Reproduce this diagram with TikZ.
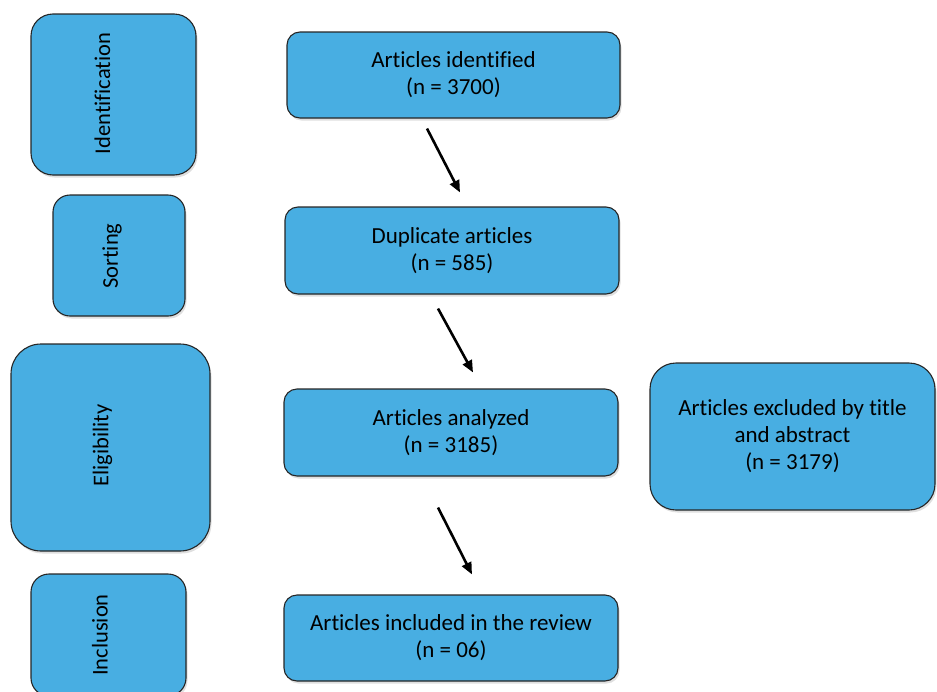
\documentclass[tikz,border=0pt]{standalone}
\usepackage{fontspec}
\setmainfont[Ligatures={NoCommon,NoRare},RawFeature={-liga;-dlig}]{Carlito}
\usetikzlibrary{arrows.meta,shadows}
\definecolor{boxblue}{RGB}{72,174,226}
\begin{document}
\begin{tikzpicture}
    [
        x=1pt, y=-1pt,
        box/.style={rectangle, rounded corners=13pt, draw=black!85, line width=1.1pt, fill=boxblue, inner sep=0pt, align=center,
            drop shadow={shadow xshift=1.5pt, shadow yshift=-2.5pt, opacity=0.25},
            font=\fontsize{23}{27}\selectfont},
        sidelabel/.style={rotate=90, inner sep=0pt, font=\fontsize{22.5}{27}\selectfont},
        arrowline/.style={-{Triangle[length=12pt,width=10pt]}, line width=2.6pt}
    ]
    \useasboundingbox (0,0) rectangle (937,691);
    % Identification
    \node[box, rounded corners=22pt, minimum width=165pt, minimum height=161pt] (ident) at (113.5,94.5) {};
    \node[sidelabel] (identlbl) at (102.5,93.5) {Identification};
    % Sorting
    \node[box, rounded corners=17pt, minimum width=132pt, minimum height=121pt] (sort) at (119,255.5) {};
    \node[sidelabel] (sortlbl) at (112,256) {Sorting};
    % Eligibility
    \node[box, rounded corners=30pt, minimum width=199pt, minimum height=207pt] (elig) at (110.5,447.5) {};
    \node[sidelabel] (eliglbl) at (102.5,445.5) {Eligibility};
    % Inclusion
    \node[box, rounded corners=18pt, minimum width=155pt, minimum height=122pt] (incl) at (108.5,635) {};
    \node[sidelabel] (incllbl) at (100,635) {Inclusion};
    % flow
    \node[box, minimum width=333pt, minimum height=86pt] (found) at (453.5,75) {Articles identified\\(n = 3700)};
    \node[box, minimum width=334pt, minimum height=87pt] (dup) at (452,250.5) {Duplicate articles\\(n = 585)};
    \node[box, minimum width=334pt, minimum height=87pt] (anal) at (451,432.5) {Articles analyzed\\(n = 3185)};
    \node[box, minimum width=334pt, minimum height=86pt] (review) at (451,638) {Articles included in the review\\(n = 06)};
    % excluded
    \node[box, rounded corners=26pt, minimum width=285pt, minimum height=147pt] (excl) at (792.5,436.5) {Articles excluded by title\\and abstract\\(n = 3179)};
    % arrows
    \draw[arrowline] ([xshift=-26.5pt,yshift=-10pt]found.south) -- ([xshift=8pt,yshift=14pt]dup.north);
    \draw[arrowline] ([xshift=-14pt,yshift=-14pt]dup.south) -- ([xshift=22pt,yshift=16pt]anal.north);
    \draw[arrowline] ([xshift=-13pt,yshift=-31pt]anal.south) -- ([xshift=21pt,yshift=20pt]review.north);
\end{tikzpicture}
\end{document}
